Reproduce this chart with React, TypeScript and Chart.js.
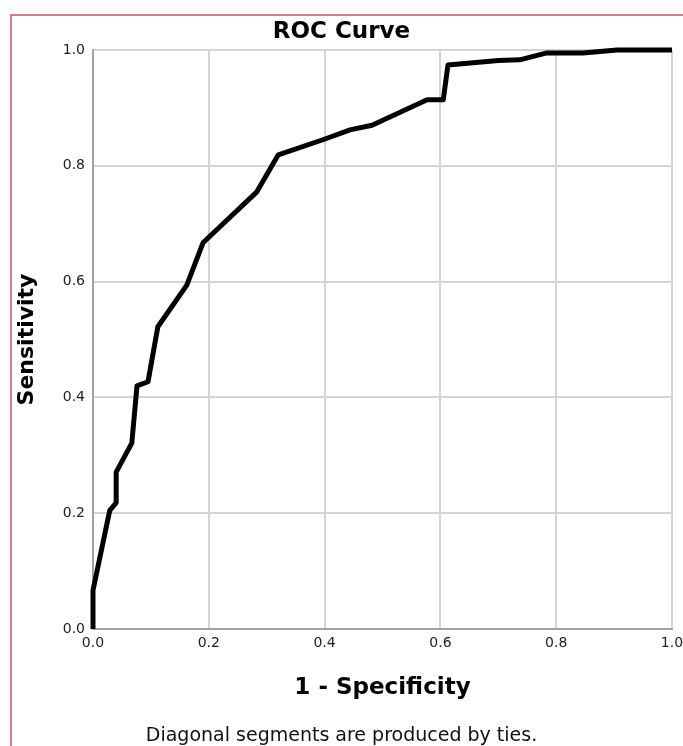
import React, { useEffect, useRef } from "react";
import { Chart, registerables } from "chart.js";

Chart.register(...registerables);

const chartTitle = "ROC Curve";
const footnote = "Diagonal segments are produced by ties.";
const xAxisTitle = "1 - Specificity";
const yAxisTitle = "Sensitivity";

// 1 - Specificity (false positive rate)
const fpr = [
  0, 0, 0.029, 0.04, 0.04, 0.067, 0.076, 0.095, 0.112, 0.162, 0.19, 0.283,
  0.32, 0.397, 0.444, 0.482, 0.577, 0.605, 0.613, 0.7, 0.737, 0.784, 0.846,
  0.905, 1.0,
];
// Sensitivity (true positive rate)
const tpr = [
  0, 0.067, 0.205, 0.218, 0.271, 0.321, 0.42, 0.427, 0.522, 0.594, 0.667,
  0.755, 0.819, 0.845, 0.862, 0.87, 0.914, 0.914, 0.974, 0.982, 0.983, 0.995,
  0.995, 1.0, 1.0,
];
const tickValues = [0, 0.2, 0.4, 0.6, 0.8, 1.0];

const FONT = "'DejaVu Sans', sans-serif";

export default function App() {
  const ref = useRef<HTMLCanvasElement>(null);

  useEffect(() => {
    const canvas = ref.current;
    if (!canvas) return;
    const tickFont = { family: FONT, size: 14 };
    const chart = new Chart(canvas, {
      type: "line",
      data: {
        datasets: [
          {
            data: fpr.map((x, i) => ({ x, y: tpr[i] })),
            borderColor: "#000000",
            borderWidth: 5,
            pointRadius: 0,
            tension: 0,
            clip: false,
            borderJoinStyle: "round",
            fill: false,
          } as any,
        ],
      },
      options: {
        responsive: false,
        animation: false,
        layout: { padding: 0 },
        plugins: {
          legend: { display: false },
          tooltip: { enabled: false },
          title: {
            display: true,
            text: chartTitle,
            color: "#000",
            font: { family: FONT, size: 23, weight: "bold" },
            padding: { top: 18.7, bottom: 3.7 },
          },
          subtitle: {
            display: true,
            position: "bottom",
            text: footnote,
            color: "#111",
            font: { family: FONT, size: 19, lineHeight: 1 },
            padding: { top: 0, bottom: 0 },
          },
        },
        scales: {
          x: {
            type: "linear",
            min: 0,
            max: 1,
            afterBuildTicks: (s: any) => {
              s.ticks = tickValues.map((v) => ({ value: v }));
            },
            ticks: {
              padding: 6,
              maxRotation: 0,
              autoSkip: false,
              color: "#222",
              font: tickFont,
              callback: (v: any) => Number(v).toFixed(1),
            },
            grid: { color: "#d4d4d4", lineWidth: 2, drawTicks: false },
            border: { color: "#a3a3a3", width: 2 },
            title: {
              display: true,
              text: xAxisTitle,
              color: "#000",
              font: { family: FONT, size: 23, weight: "bold" },
              padding: { top: 0, bottom: 24.7 },
            },
            afterFit: (s: any) => {
              s.height = 98;
              s.paddingRight = 11;
            },
          },
          y: {
            type: "linear",
            min: 0,
            max: 1,
            afterBuildTicks: (s: any) => {
              s.ticks = tickValues.map((v) => ({ value: v }));
            },
            ticks: {
              padding: 8,
              autoSkip: false,
              color: "#222",
              font: tickFont,
              callback: (v: any) => Number(v).toFixed(1),
            },
            grid: { color: "#d4d4d4", lineWidth: 2, drawTicks: false },
            border: { color: "#a3a3a3", width: 2 },
            title: {
              display: true,
              text: yAxisTitle,
              color: "#000",
              font: { family: FONT, size: 22, weight: "bold" },
              padding: { top: 14, bottom: 0 },
            },
            afterFit: (s: any) => {
              s.width = 93;
            },
          },
        },
      },
    });
    return () => chart.destroy();
  }, []);

  return (
    <div
      style={{
        position: "fixed",
        inset: 0,
        overflow: "hidden",
        background: "#fff",
      }}
    >
      <canvas
        ref={ref}
        width={683}
        height={746}
        style={{ position: "absolute", left: 0, top: 0, width: 683, height: 746 }}
      />
      <div
        style={{
          position: "absolute",
          left: 10,
          top: 14,
          right: -20,
          bottom: -20,
          borderLeft: "2px solid #cf7f88",
          borderTop: "2px solid #cf7f88",
          pointerEvents: "none",
        }}
      />
    </div>
  );
}
